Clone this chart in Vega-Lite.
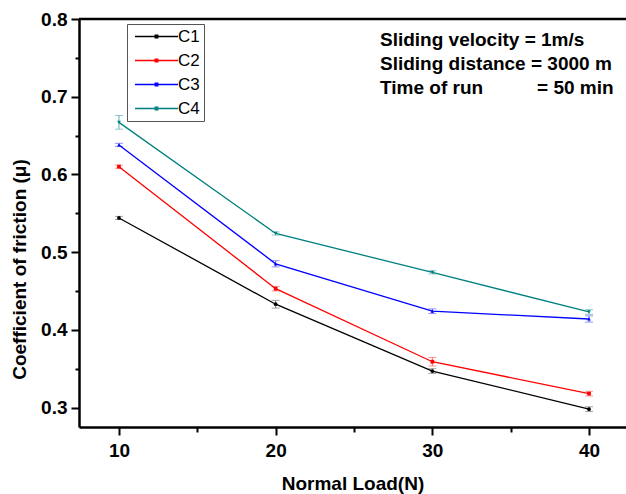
{
  "$schema": "https://vega.github.io/schema/vega-lite/v6.json",
  "width": 547,
  "height": 408,
  "autosize": {"type": "none"},
  "padding": {"left": 79, "top": 19, "right": 0, "bottom": 67},
  "background": "white",
  "config": {
    "view": {"stroke": null},
    "font": "Liberation Sans",
    "axis": {
      "grid": false,
      "domainColor": "black",
      "domainWidth": 2.5,
      "tickColor": "black",
      "tickWidth": 2,
      "labelFont": "Liberation Sans",
      "labelFontWeight": "bold",
      "labelFontSize": 19,
      "labelColor": "black",
      "titleFont": "Liberation Sans",
      "titleFontWeight": "bold",
      "titleFontSize": 19,
      "titleColor": "black"
    }
  },
  "datasets": {
    "pts": [
      {"load": 10, "series": "C1", "mu": 0.544, "err": 0.002},
      {"load": 20, "series": "C1", "mu": 0.433, "err": 0.005},
      {"load": 30, "series": "C1", "mu": 0.347, "err": 0.003},
      {"load": 40, "series": "C1", "mu": 0.298, "err": 0.003},
      {"load": 10, "series": "C2", "mu": 0.610, "err": 0.002},
      {"load": 20, "series": "C2", "mu": 0.453, "err": 0.003},
      {"load": 30, "series": "C2", "mu": 0.359, "err": 0.0055},
      {"load": 40, "series": "C2", "mu": 0.318, "err": 0.003},
      {"load": 10, "series": "C3", "mu": 0.638, "err": 0.002},
      {"load": 20, "series": "C3", "mu": 0.485, "err": 0.004},
      {"load": 30, "series": "C3", "mu": 0.424, "err": 0.003},
      {"load": 40, "series": "C3", "mu": 0.414, "err": 0.004},
      {"load": 10, "series": "C4", "mu": 0.667, "err": 0.0088},
      {"load": 20, "series": "C4", "mu": 0.524, "err": 0.002},
      {"load": 30, "series": "C4", "mu": 0.474, "err": 0.002},
      {"load": 40, "series": "C4", "mu": 0.423, "err": 0.003}
    ],
    "notes": [
      {"x": 26.66, "y": 0.7647, "text": "Sliding velocity = 1m/s"},
      {"x": 26.66, "y": 0.7347, "text": "Sliding distance = 3000 m"},
      {"x": 26.66, "y": 0.7035, "text": "Time of run"},
      {"x": 36.68, "y": 0.7035, "text": "= 50 min"}
    ]
  },
  "layer": [
    {
      "data": {"name": "pts"},
      "mark": {"type": "point", "opacity": 0},
      "encoding": {
        "x": {
          "field": "load", "type": "quantitative",
          "scale": {"domain": [7.45, 42.36], "nice": false, "zero": false},
          "axis": {"orient": "bottom", "values": [15, 25, 35], "labels": false, "domain": false, "tickSize": 5, "title": null}
        },
        "y": {
          "field": "mu", "type": "quantitative",
          "scale": {"domain": [0.275, 0.8], "nice": false, "zero": false},
          "axis": {"orient": "left", "values": [0.35, 0.45, 0.55, 0.65, 0.75], "labels": false, "domain": false, "tickSize": 4, "title": null}
        }
      }
    },
    {
      "data": {"values": [{}]},
      "mark": {"type": "rule", "color": "black", "strokeWidth": 2.5},
      "encoding": {
        "y": {"datum": 0.8, "type": "quantitative", "axis": null}
      }
    },
    {
      "data": {"name": "pts"},
      "mark": {"type": "errorbar", "ticks": {"size": 8}},
      "encoding": {
        "x": {"field": "load", "type": "quantitative", "axis": null},
        "y": {"field": "mu", "type": "quantitative", "axis": null},
        "yError": {"field": "err"},
        "color": {
          "field": "series", "type": "nominal",
          "scale": {"domain": ["C1", "C2", "C3", "C4"], "range": ["#777777", "#ff6666", "#6666ff", "#5fb0b0"]},
          "legend": null
        }
      }
    },
    {
      "data": {"name": "pts"},
      "mark": {"type": "line", "strokeWidth": 1.3},
      "encoding": {
        "x": {
          "field": "load", "type": "quantitative",
          "axis": {"orient": "bottom", "values": [10, 20, 30, 40], "tickSize": 8, "labelPadding": 6, "title": "Normal Load(N)", "titleY": 62, "titleBaseline": "alphabetic"}
        },
        "y": {
          "field": "mu", "type": "quantitative",
          "axis": {"orient": "left", "values": [0.3, 0.4, 0.5, 0.6, 0.7, 0.8], "format": ".1f", "tickSize": 8, "labelPadding": 4, "title": "Coefficient of friction (μ)", "titleX": -60, "titleY": 250, "titleBaseline": "middle", "titleAlign": "center"}
        },
        "color": {
          "field": "series", "type": "nominal",
          "scale": {"domain": ["C1", "C2", "C3", "C4"], "range": ["#000000", "#ff0000", "#0000ff", "#008080"]},
          "legend": {
            "orient": "none", "legendX": 48, "legendY": 5, "title": null,
            "symbolType": "M-10.75,0H10.75M-0.6,-0.6H0.6V0.6H-0.6Z", "symbolSize": 16, "symbolStrokeWidth": 1.5,
            "symbolOffset": 17,
            "labelFontSize": 17, "labelFont": "Liberation Sans", "labelColor": "black",
            "labelOffset": 13, "rowPadding": 6, "padding": 4,
            "strokeColor": "#555555", "fillColor": "white"
          }
        }
      }
    },
    {
      "data": {"name": "pts"},
      "mark": {"type": "point", "filled": true, "size": 14, "opacity": 1},
      "encoding": {
        "x": {"field": "load", "type": "quantitative", "axis": null},
        "y": {"field": "mu", "type": "quantitative", "axis": null},
        "color": {
          "field": "series", "type": "nominal",
          "scale": {"domain": ["C1", "C2", "C3", "C4"], "range": ["#000000", "#ff0000", "#0000ff", "#008080"]},
          "legend": null
        },
        "shape": {
          "field": "series", "type": "nominal",
          "scale": {"domain": ["C1", "C2", "C3", "C4"], "range": ["circle", "square", "triangle-up", "triangle-down"]},
          "legend": null
        }
      }
    },
    {
      "data": {"name": "notes"},
      "mark": {"type": "text", "align": "left", "baseline": "alphabetic", "font": "Liberation Sans", "fontWeight": "bold", "fontSize": 19, "color": "black"},
      "encoding": {
        "x": {"field": "x", "type": "quantitative", "axis": null},
        "y": {"field": "y", "type": "quantitative", "axis": null},
        "text": {"field": "text"}
      }
    }
  ],
  "resolve": {
    "axis": {"x": "independent", "y": "independent"},
    "scale": {"color": "independent", "shape": "independent"}
  }
}
